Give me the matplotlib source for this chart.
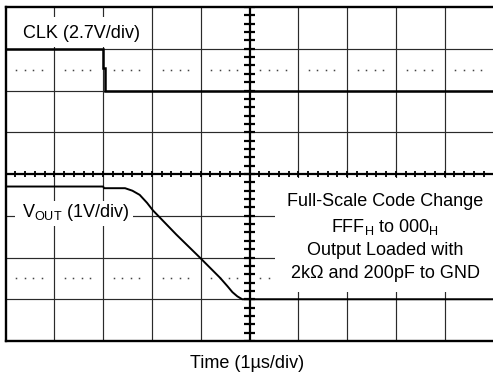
import numpy as np
import matplotlib
matplotlib.use('Agg')
import matplotlib.pyplot as plt
from matplotlib.patches import Rectangle

plt.rcParams['font.family'] = ['Liberation Sans', 'DejaVu Sans']
plt.rcParams['mathtext.fontset'] = 'custom'
plt.rcParams['mathtext.rm'] = 'Liberation Sans'

# screen is 10 x 8 divisions, values below are in divisions
clk_t = [0, 2.0, 2.0, 2.03, 2.03, 10]
clk_v = [7.0, 7.0, 6.55, 6.55, 6.0, 6.0]

vout_t = [0, 2.0, 2.02, 2.45, 2.6, 2.75, 2.9, 3.02, 3.5, 3.99, 4.4, 4.55, 4.65, 4.75, 4.85, 10]
vout_v = [3.70, 3.70, 3.66, 3.66, 3.60, 3.50, 3.31, 3.13, 2.55, 1.99, 1.51, 1.31, 1.17, 1.07, 1.0, 1.0]

clk_label = 'CLK (2.7V/div)'
vout_label = r'V$_{\mathrm{OUT}}$ (1V/div)'
note_lines = ['Full-Scale Code Change',
              r'FFF$_{\mathrm{H}}$ to 000$_{\mathrm{H}}$',
              'Output Loaded with',
              '2k\u03a9 and 200pF to GND']
xlabel = 'Time (1\u00b5s/div)'

W, H = 493, 377
fig = plt.figure(figsize=(W / 100, H / 100), dpi=100)
ax = fig.add_axes([5.5 / W, 36 / H, 488 / W, 334 / H])
ax.set_xlim(0, 10)
ax.set_ylim(0, 8)
ax.set_xticks([])
ax.set_yticks([])
ax.spines['right'].set_visible(False)
for s in ['left', 'top', 'bottom']:
    ax.spines[s].set_linewidth(1.7)

grid_c = '#2a2a2a'
# graticule
for gx in range(1, 10):
    if gx != 5:
        ax.axvline(gx, color=grid_c, lw=0.85, zorder=1)
for gy in range(1, 8):
    if gy != 4:
        ax.axhline(gy, color=grid_c, lw=0.85, zorder=1)

# centre axes with minor ticks
ax.axvline(5, color='black', lw=1.6, zorder=2)
ax.axhline(4, color='black', lw=1.6, zorder=2)
tx = np.arange(0, 10.01, 0.2)
ax.vlines(tx, 4 - 0.075, 4 + 0.075, color='black', lw=1.3, zorder=2)
ty = np.arange(0, 8.01, 0.2)
ax.hlines(ty, 5 - 0.105, 5 + 0.105, color='black', lw=1.6, zorder=2)

# dotted reference levels
frac = np.array([0.22, 0.39, 0.57, 0.74])
dx = (np.arange(10)[:, None] + frac[None, :]).ravel()
for ly in [6.5, 1.5]:
    ax.plot(dx, np.full_like(dx, ly), ls='none', marker='s', ms=1.1,
            color='#444444', mew=0, zorder=1)

# white boxes behind labels
ax.add_patch(Rectangle((0.06, 7.04), 2.84, 0.71, fc='white', ec='none', zorder=3))
ax.add_patch(Rectangle((0.19, 2.75), 2.42, 0.60, fc='white', ec='none', zorder=3))
ax.add_patch(Rectangle((5.52, 1.17), 4.6, 2.73, fc='white', ec='none', zorder=3,
                       clip_on=False))

# traces
ax.plot(clk_t, clk_v, color='black', lw=1.8, zorder=4, solid_joinstyle='miter')
ax.plot(vout_t, vout_v, color='black', lw=1.4, zorder=4)

fs = 13
ax.text(1.55, 7.26, clk_label, fontsize=fs, ha='center', va='baseline', zorder=5)
ax.text(1.43, 2.96, vout_label, fontsize=fs, ha='center', va='baseline', zorder=5)
for line, by in zip(note_lines, [3.23, 2.61, 2.06, 1.52]):
    ax.text(7.78, by, line, fontsize=fs, ha='center', va='baseline', zorder=5)

fig.text(247 / W, (377 - 368.5) / H, xlabel, fontsize=fs, ha='center', va='baseline')

fig.savefig('out.png', dpi=100)
